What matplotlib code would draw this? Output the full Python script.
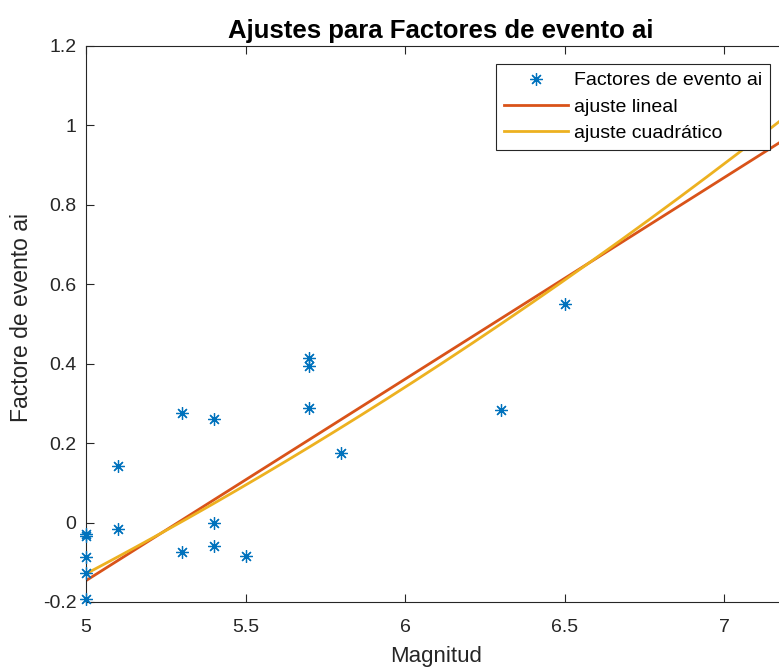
import numpy as np
import matplotlib
matplotlib.use("Agg")
import matplotlib.pyplot as plt

plt.rcParams['font.family'] = ['Liberation Sans', 'DejaVu Sans']
plt.rcParams['axes.unicode_minus'] = False

# magnitudes and event factors
magnitud = [5.0, 5.0, 5.0, 5.0, 5.0, 5.1, 5.1, 5.3, 5.3, 5.4, 5.4, 5.4,
            5.5, 5.7, 5.7, 5.7, 5.8, 6.3, 6.5]
factor_ai = [-0.030, -0.035, -0.086, -0.126, -0.193, 0.143, -0.016, 0.276,
             -0.074, 0.261, 0.0, -0.060, -0.083, 0.414, 0.393, 0.288,
             0.175, 0.284, 0.551]

# fit coefficients (highest power first)
coef_lineal = [0.5073, -2.6827]
coef_cuadratico = [0.0462, -0.0384, -1.092]

x_ticks = [5, 5.5, 6, 6.5, 7]
y_ticks = [-0.2, 0, 0.2, 0.4, 0.6, 0.8, 1, 1.2]

azul = '#0072BD'
naranja = '#D95319'
amarillo = '#EDB120'
eje = '#262626'

x = np.array(magnitud)
y = np.array(factor_ai)
xx = np.linspace(5, 7.6, 200)

W, H = 779, 669
fig = plt.figure(figsize=(W / 100, H / 100), dpi=100)
# axes extends past the right edge of the picture (cropped figure)
x0, x1 = 5, 7.5
left, right_px = 86, 86 + (x1 - x0) * 319
bottom, top = 602, 46
ax = fig.add_axes([left / W, 1 - bottom / H, (right_px - left) / W, (bottom - top) / H])

ax.plot(x, y, linestyle='none', marker=(8, 2, 0), color=azul, ms=9, mew=0.9,
        label='Factores de evento ai', clip_on=False, zorder=3)
ax.plot(xx, np.polyval(coef_lineal, xx), color=naranja, lw=2, label='ajuste lineal')
ax.plot(xx, np.polyval(coef_cuadratico, xx), color=amarillo, lw=2, label='ajuste cuadrático')

ax.set_xlim(x0, x1)
ax.set_ylim(-0.2, 1.2)
ax.set_xticks(x_ticks)
ax.set_xticklabels(['%g' % v for v in x_ticks])
ax.set_yticks(y_ticks)
ax.set_yticklabels(['%g' % v for v in y_ticks])
ax.tick_params(direction='in', length=6, width=0.8, color=eje, labelcolor=eje,
               labelsize=14, top=True, right=True)
ax.tick_params(axis='x', pad=12)
ax.tick_params(axis='y', pad=7)
for s in ax.spines.values():
    s.set_color(eje)
    s.set_linewidth(0.8)

fig.text(441 / W, 1 - 38 / H, 'Ajustes para Factores de evento ai', ha='center',
         va='baseline', fontsize=18.5, fontweight='bold', color='black')
fig.text(436 / W, 1 - 662 / H, 'Magnitud', ha='center', va='baseline',
         fontsize=16, color=eje)
fig.text(28 / W, 1 - 318 / H, 'Factore de evento ai', ha='center', va='baseline',
         rotation=90, rotation_mode='anchor', fontsize=16.5, color=eje)

leg = ax.legend(loc='upper right', bbox_to_anchor=(770 / W, 1 - 64 / H),
                bbox_transform=fig.transFigure, fontsize=14, frameon=True,
                fancybox=False, edgecolor=eje, framealpha=1, borderaxespad=0,
                handlelength=3.3, handletextpad=0.3, labelspacing=0.45,
                borderpad=0.4)
leg.get_frame().set_linewidth(0.8)

fig.savefig('out.png', dpi=100)
